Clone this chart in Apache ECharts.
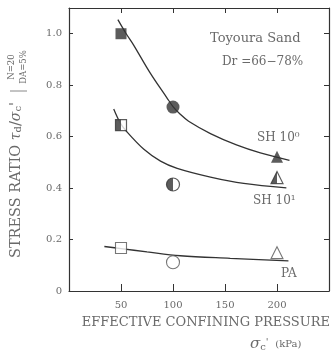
<!DOCTYPE html>
<html>
<head>
<meta charset="utf-8">
<script src="https://cdn.jsdelivr.net/npm/echarts@6/dist/echarts.min.js"></script>
<style>
  html, body { margin: 0; padding: 0; background: #fff; }
  #chart { width: 333px; height: 355px; }
</style>
</head>
<body>
<div id="chart"></div>
<script>
// measured points (effective confining pressure in kPa, stress ratio)
const pressure = [50, 100, 200];
const markerShapes = ['rect', 'circle', 'triangle'];
const sh0Ratio = [1.0, 0.715, 0.522];
const sh1Ratio = [0.645, 0.414, 0.441];
const paRatio = [0.167, 0.112, 0.149];

// fitted curves
const sh0CurveX = [47, 55, 62, 78, 94, 100, 107, 115, 136, 161, 184, 212];
const sh0CurveY = [1.055, 1.0, 0.957, 0.848, 0.752, 0.717, 0.687, 0.660, 0.612, 0.568, 0.537, 0.508];
const sh1CurveX = [43, 49, 55, 72, 88, 104, 136, 168, 209];
const sh1CurveY = [0.707, 0.655, 0.622, 0.551, 0.505, 0.477, 0.443, 0.418, 0.401];
const paCurveX = [34, 50, 75, 107, 155, 211];
const paCurveY = [0.173, 0.165, 0.152, 0.137, 0.127, 0.117];

const xTicks = [50, 100, 150, 200];

const INK = '#333';
const TEXT = '#6a6a6a';
const FONT = '"DejaVu Serif", "Liberation Serif", serif';

const sizeOf = s => ({ rect: 11, circle: 13, triangle: 12 })[s];
const halfPath = {
  rect: 'path://M0,0L1,0L1,2L0,2Z',
  circle: 'path://M1,0A1,1 0 0 0 1,2Z',
  triangle: 'path://M1,0L1,2L0,2Z',
};

const zip = (xs, ys) => xs.map((x, i) => [x, ys[i]]);
const pts = ys => pressure.map((p, i) => ({
  value: [p, ys[i]],
  symbol: markerShapes[i],
  symbolSize: sizeOf(markerShapes[i]),
}));

function curve(name, xs, ys) {
  return {
    name, type: 'line', data: zip(xs, ys), smooth: 0.35,
    showSymbol: false, silent: true, z: 2,
    lineStyle: { color: INK, width: 1.3 },
  };
}

const chart = echarts.init(document.getElementById('chart'), null, { renderer: 'canvas' });

const axisCommon = {
  type: 'value', min: 0,
  axisLine: { show: true, onZero: false, lineStyle: { color: INK, width: 1.2 } },
  axisTick: { show: true, inside: true, length: 5, lineStyle: { color: INK } },
  splitLine: { show: false },
};

chart.setOption({
  animation: false,
  backgroundColor: '#fff',
  grid: { left: 69, right: 4, top: 8, bottom: 64, containLabel: false },
  xAxis: [
    {
      ...axisCommon, max: 250, interval: 50, position: 'bottom',
      axisTick: { ...axisCommon.axisTick, length: 7 },
      axisLabel: {
        margin: 9, color: TEXT, fontFamily: FONT, fontSize: 10,
        formatter: v => xTicks.includes(v) ? String(v) : '',
      },
    },
    {
      ...axisCommon, max: 250, interval: 50, position: 'top',
      axisLabel: { show: false },
    },
  ],
  yAxis: [
    {
      ...axisCommon, max: 1.1, interval: 0.2, position: 'left',
      axisTick: { ...axisCommon.axisTick, length: 4 },
      axisLabel: {
        margin: 7, color: TEXT, fontFamily: FONT, fontSize: 10,
        formatter: v => v > 1.05 ? '' : (v === 0 ? '0' : v.toFixed(1)),
      },
    },
    {
      ...axisCommon, max: 1.1, interval: 0.2, position: 'right',
      axisLabel: { show: false },
    },
  ],
  series: [
    curve('SH 10^0 fit', sh0CurveX, sh0CurveY),
    curve('SH 10^1 fit', sh1CurveX, sh1CurveY),
    curve('PA fit', paCurveX, paCurveY),
    {
      name: 'SH 10^0', type: 'scatter', data: pts(sh0Ratio), z: 4,
      itemStyle: { color: INK },
    },
    {
      name: 'SH 10^1', type: 'scatter', data: pts(sh1Ratio), z: 4,
      itemStyle: { color: '#fff', borderColor: INK, borderWidth: 1.2 },
    },
    {
      name: 'SH 10^1 half', type: 'scatter', z: 5,
      data: pressure.map((p, i) => {
        const s = sizeOf(markerShapes[i]);
        return {
          value: [p, sh1Ratio[i]],
          symbol: halfPath[markerShapes[i]],
          symbolSize: [s / 2, s],
          symbolOffset: [-s / 4, 0],
        };
      }),
      itemStyle: { color: INK },
    },
    {
      name: 'PA', type: 'scatter', data: pts(paRatio), z: 4,
      itemStyle: { color: '#fff', borderColor: '#555', borderWidth: 1.1 },
    },
  ],
  graphic: [
    {
      type: 'text', x: 210, y: 39,
      style: { text: 'Toyoura Sand', font: `13px ${FONT}`, fill: TEXT, verticalAlign: 'middle' },
    },
    {
      type: 'text', x: 222, y: 62,
      style: { text: 'Dr =66−78%', font: `12px ${FONT}`, fill: TEXT, verticalAlign: 'middle' },
    },
    {
      type: 'text', x: 257, y: 138,
      style: { text: 'SH 10⁰', font: `12px ${FONT}`, fill: TEXT, verticalAlign: 'middle' },
    },
    {
      type: 'text', x: 253, y: 201,
      style: { text: 'SH 10¹', font: `12px ${FONT}`, fill: TEXT, verticalAlign: 'middle' },
    },
    {
      type: 'text', x: 281, y: 274,
      style: { text: 'PA', font: `12px ${FONT}`, fill: TEXT, verticalAlign: 'middle' },
    },
    {
      type: 'text', x: 330, y: 323,
      style: {
        text: 'EFFECTIVE CONFINING PRESSURE', font: `13px ${FONT}`, fill: TEXT,
        align: 'right', verticalAlign: 'middle',
      },
    },
    {
      type: 'text', x: 250, y: 344,
      style: {
        text: '{i|σ}{s|c}{p|\'}  {u|(kPa)}', fill: TEXT, verticalAlign: 'middle',
        rich: {
          i: { font: `italic 15px ${FONT}`, fill: TEXT },
          s: { font: `10px ${FONT}`, fill: TEXT, padding: [6, 0, 0, 0] },
          p: { font: `10px ${FONT}`, fill: TEXT, padding: [0, 0, 4, 0] },
          u: { font: `10px ${FONT}`, fill: TEXT },
        },
      },
    },
    {
      // y axis title, reads bottom to top
      type: 'text', x: 16, y: 180, rotation: Math.PI / 2,
      style: {
        text: 'STRESS RATIO {i|τ}{s|d}/{i|σ}{s|c}\'', font: `14.5px ${FONT}`, fill: TEXT,
        align: 'center', verticalAlign: 'middle',
        rich: {
          i: { font: `italic 14px ${FONT}`, fill: TEXT },
          s: { font: `10px ${FONT}`, fill: TEXT, padding: [5, 0, 0, 0] },
        },
      },
    },
    {
      type: 'line', shape: { x1: 10, y1: 91, x2: 27, y2: 91 },
      style: { stroke: '#888', lineWidth: 1 },
    },
    {
      type: 'text', x: 17.5, y: 67, rotation: Math.PI / 2,
      style: {
        text: 'N=20\nDA=5%', font: `8.5px ${FONT}`, fill: TEXT, lineHeight: 12,
        align: 'center', verticalAlign: 'middle',
      },
    },
  ],
});
</script>
</body>
</html>
